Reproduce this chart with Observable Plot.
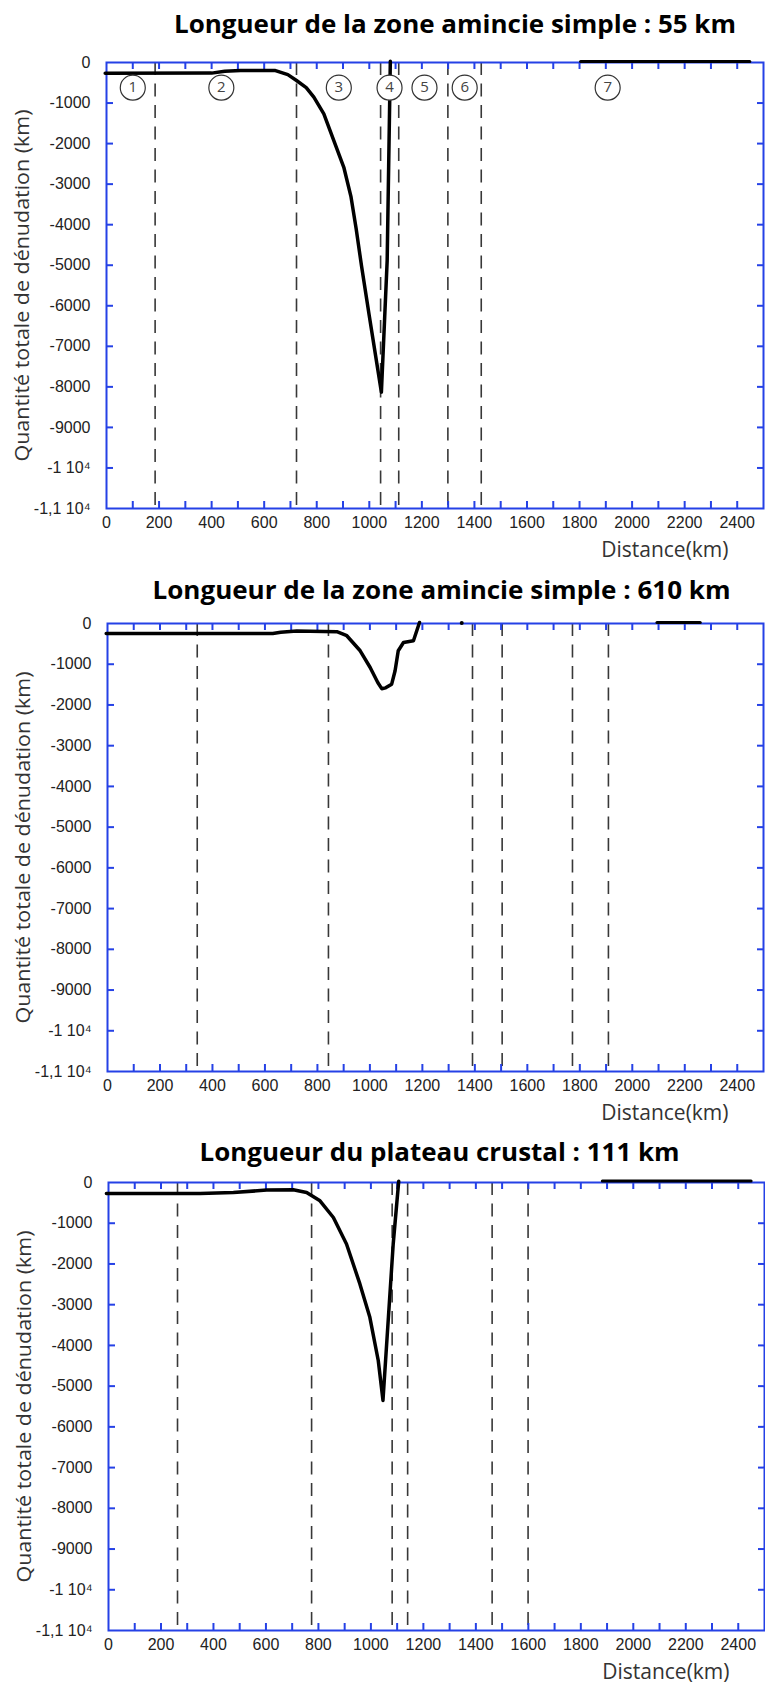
<!DOCTYPE html>
<html><head><meta charset="utf-8">
<script src="https://cdn.jsdelivr.net/npm/d3@7"></script>
<script src="https://cdn.jsdelivr.net/npm/@observablehq/plot@0.6"></script>
<style>body{margin:0;background:#fff} svg{display:block}</style>
</head><body><div id="c"></div>
<script>
// ---- shared axis data ----
const xTickValues = [0, 200, 400, 600, 800, 1000, 1200, 1400, 1600, 1800, 2000, 2200, 2400];
const xTickLabels = ["0", "200", "400", "600", "800", "1000", "1200", "1400", "1600", "1800", "2000", "2200", "2400"];
const xMinorTicks = [100, 200, 300, 400, 500, 600, 700, 800, 900, 1000, 1100, 1200, 1300, 1400, 1500, 1600, 1700, 1800, 1900, 2000, 2100, 2200, 2300, 2400];
const yTickValues = [0, -1000, -2000, -3000, -4000, -5000, -6000, -7000, -8000, -9000, -10000, -11000];
const yTickLabels = ["0", "-1000", "-2000", "-3000", "-4000", "-5000", "-6000", "-7000", "-8000", "-9000", "-1 10\u2074", "-1,1 10\u2074"];
const yLabel = "Quantité totale de dénudation (km)";
const xLabel = "Distance(km)";

// ---- panel 1 ----
const title1 = "Longueur de la zone amincie simple : 55 km";
const dist1 = [-5, 400, 450, 510, 640, 690, 723, 760, 789, 827, 865, 903, 930, 950, 970, 1000, 1046, 1068, 1080];
const denud1 = [-265, -262, -215, -200, -195, -300, -444, -620, -856, -1267, -1925, -2584, -3300, -4100, -5000, -6250, -8130, -4886, 30];
const plateau1Dist = [1804, 2448];
const plateau1Level = [25, 25];
const dashes1 = [185, 723, 1043, 1112, 1299, 1426];
const zoneLabels = ["1", "2", "3", "4", "5", "6", "7"];
const zoneDist = [100, 437, 884, 1077, 1210, 1363, 1907];
const zoneLevel = [-620, -620, -620, -620, -620, -620, -620];

// ---- panel 2 ----
const title2 = "Longueur de la zone amincie simple : 610 km";
const dist2 = [-5, 630, 660, 721, 874, 912, 963, 1001, 1030, 1045, 1060, 1083, 1096, 1108, 1128, 1166, 1189];
const denud2 = [-245, -245, -215, -185, -200, -300, -670, -1080, -1450, -1600, -1580, -1490, -1160, -670, -466, -425, 25];
const plateau2Dist = [2094, 2259];
const plateau2Level = [25, 25];
const dot2Dist = [1350];
const dot2Level = [10];
const dashes2 = [342, 842, 1391, 1504, 1772, 1909];

// ---- panel 3 ----
const title3 = "Longueur du plateau crustal : 111 km";
const dist3 = [-8, 349, 476, 603, 704, 755, 806, 857, 907, 958, 996, 1028, 1046, 1085, 1106];
const denud3 = [-270, -270, -245, -187, -180, -245, -450, -860, -1510, -2490, -3310, -4370, -5350, -1510, 30];
const plateau3Dist = [1882, 2449];
const plateau3Level = [35, 35];
const dashes3 = [263, 774, 1081, 1140, 1462, 1599];

const blue = "#2541e6";

function panel(cfg) {
  const W = 765, H = 561;
  const fw = W - cfg.ml - cfg.mr, fh = H - cfg.mt - cfg.mb;
  const curve = cfg.dist.map((d, i) => ({x: d, y: cfg.denud[i]}));
  const plateau = cfg.pDist.map((d, i) => ({x: d, y: cfg.pLevel[i]}));
  const marks = [
    Plot.ruleX(cfg.dashes, {stroke: "#383838", strokeWidth: 1.6, strokeDasharray: "13,8.5"}),
    Plot.frame({stroke: blue, strokeWidth: 2}),
    Plot.ruleX(xMinorTicks, {stroke: blue, strokeWidth: 2, insetTop: fh - 7}),
    Plot.ruleX(xMinorTicks, {stroke: blue, strokeWidth: 2, insetBottom: fh - 7}),
    Plot.ruleY(yTickValues.slice(1, -1), {stroke: blue, strokeWidth: 2, insetRight: fw - 7}),
    Plot.ruleY(yTickValues.slice(1, -1), {stroke: blue, strokeWidth: 2, insetLeft: fw - 6}),
    Plot.axisX(xTickValues, {anchor: "bottom", tickSize: 0, tickPadding: 8, fontSize: 16, label: null, fill: "#222",
      tickFormat: d => xTickLabels[xTickValues.indexOf(d)]}),
    Plot.axisY(yTickValues, {anchor: "left", tickSize: 0, tickPadding: 16, fontSize: 16, label: null, fill: "#222",
      tickFormat: d => yTickLabels[yTickValues.indexOf(d)]}),
    Plot.line(curve, {x: "x", y: "y", stroke: "black", strokeWidth: 3.5, strokeLinejoin: "round"}),
    Plot.line(plateau, {x: "x", y: "y", stroke: "black", strokeWidth: 3}),
    Plot.text([cfg.title], {frameAnchor: "top", dx: cfg.tdx, dy: -cfg.tdy, lineAnchor: "bottom",
      fontFamily: "'Open Sans', sans-serif", fontWeight: "bold", fontSize: 25, fill: "#000"}),
    Plot.text([yLabel], {frameAnchor: "left", rotate: -90, dx: -84, lineAnchor: "middle", textAnchor: "middle",
      fontFamily: "'Open Sans', sans-serif", fontSize: 20, fill: "#333"}),
    Plot.text([xLabel], {frameAnchor: "bottom-right", dx: -35, dy: 42, lineAnchor: "middle", textAnchor: "end",
      fontFamily: "'Open Sans', sans-serif", fontSize: 21, fill: "#333"})
  ];
  if (cfg.extra) marks.push(...cfg.extra);
  const svg = Plot.plot({
    width: W, height: H,
    marginTop: cfg.mt, marginBottom: cfg.mb, marginLeft: cfg.ml, marginRight: cfg.mr,
    x: {domain: [0, 2500]},
    y: {domain: [-11000, 0]},
    style: {fontFamily: "'Liberation Sans', Arial, sans-serif", fontSize: "16px", color: "#222", background: "#fff", overflow: "visible"},
    marks
  });
  const sel = d3.select(svg).selectAll("text");
  sel.filter(function() { return this.textContent === cfg.title; })
    .attr("textLength", cfg.tw).attr("lengthAdjust", "spacingAndGlyphs");
  sel.filter(function() { return this.textContent === yLabel; })
    .attr("textLength", 352).attr("lengthAdjust", "spacingAndGlyphs");
  return svg;
}

const zones = zoneLabels.map((t, i) => ({t, x: zoneDist[i], y: zoneLevel[i]}));
const dots2 = dot2Dist.map((d, i) => ({x: d, y: dot2Level[i]}));

const root = document.getElementById("c");
root.append(panel({
  title: title1, tw: 562, tdx: 20, tdy: 30,
  dist: dist1, denud: denud1, pDist: plateau1Dist, pLevel: plateau1Level, dashes: dashes1,
  mt: 62, mb: 53, ml: 106, mr: 2,
  extra: [
    Plot.dot(zones, {x: "x", y: "y", r: 12.5, fill: "white", stroke: "#333", strokeWidth: 1.2}),
    Plot.text(zones, {x: "x", y: "y", text: "t", fontFamily: "'Open Sans', sans-serif", fontSize: 15, fill: "#444"})
  ]
}));
root.append(panel({
  title: title2, tw: 578, tdx: 6, tdy: 25,
  dist: dist2, denud: denud2, pDist: plateau2Dist, pLevel: plateau2Level, dashes: dashes2,
  mt: 62, mb: 51, ml: 107, mr: 2,
  extra: [Plot.dot(dots2, {x: "x", y: "y", r: 2, fill: "black"})]
}));
root.append(panel({
  title: title3, tw: 480, tdx: 3, tdy: 22,
  dist: dist3, denud: denud3, pDist: plateau3Dist, pLevel: plateau3Level, dashes: dashes3,
  mt: 60, mb: 53, ml: 108, mr: 1
}));
</script>
</body></html>
